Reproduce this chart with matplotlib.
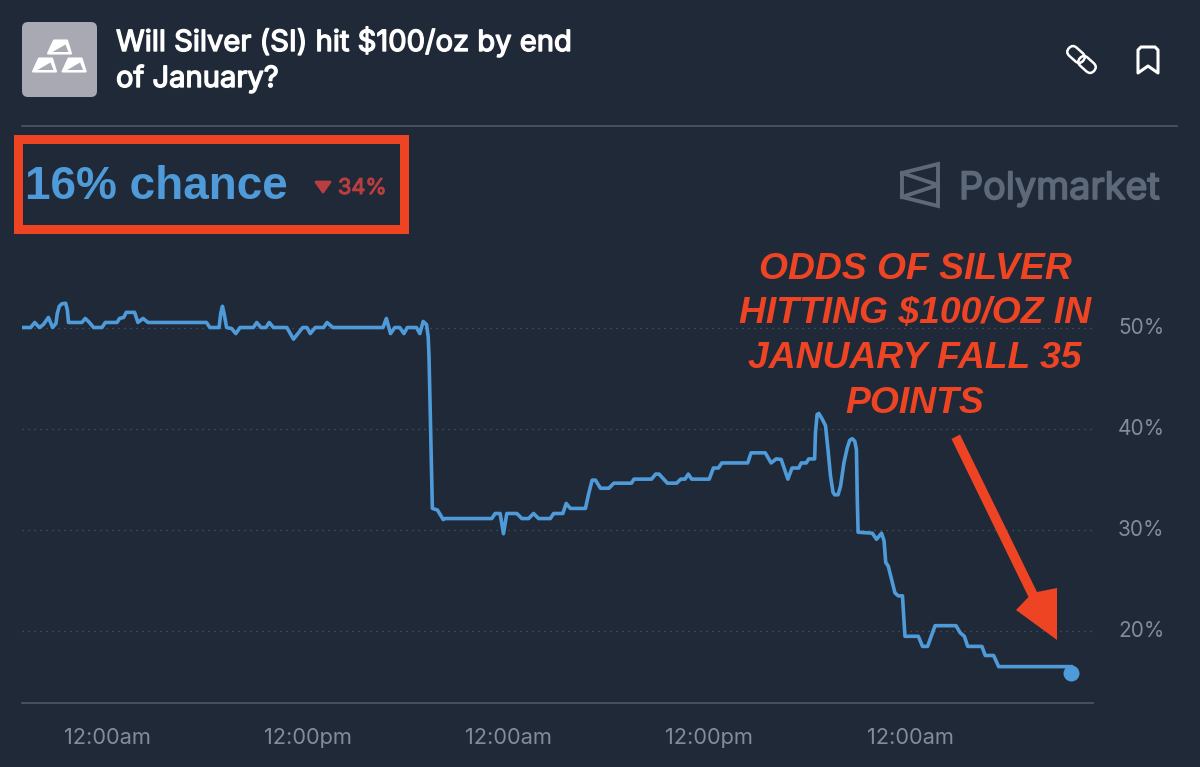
import matplotlib
matplotlib.use('Agg')
import matplotlib.pyplot as plt
import matplotlib.patheffects as pe
from matplotlib.patches import Polygon, Rectangle, FancyBboxPatch
from matplotlib.transforms import Affine2D, ScaledTranslation

# hours since the first "12:00am" tick
hours = [-5.04, -4.56, -4.32, -4.04, -3.8, -3.5, -3.25, -3.05, -2.97, -2.85, -2.7, -2.47, -2.37, -2.3, -1.5, -1.3, -1.05, -0.8,
         -0.3, -0.1, 0.6, 0.75, 1.0, 1.15, 1.65, 1.85, 2.15, 2.45, 5.95, 6.15, 6.7, 6.8, 6.9, 7.0, 7.15, 7.45, 7.7, 7.95,
         8.75, 8.95, 9.2, 9.5, 9.7, 9.95, 10.75, 11.15, 11.7, 11.95, 12.15, 12.45, 12.95, 13.15, 13.5, 16.5,
         16.7, 16.95, 17.2, 17.5, 17.75, 17.95, 18.5, 18.7, 18.9, 19.1, 19.2, 19.25, 19.45, 19.75, 20.1,
         20.2, 23.0, 23.2, 23.5, 23.7, 23.9, 24.5, 24.8, 25.2, 25.5, 25.8, 26.5, 26.7, 27.25, 27.45, 27.7, 28.6,
         28.8, 29.0, 29.2, 29.5, 30.0, 30.3, 31.35, 31.5, 32.55, 32.8, 33.0, 33.5, 34.05, 34.3, 34.55, 34.75, 34.95,
         36.0, 36.25, 36.55, 36.75, 38.3, 38.5, 39.35, 39.7, 40.0, 40.3, 40.7, 40.95, 41.35, 41.5, 41.8, 41.95,
         42.3, 42.35, 42.45, 42.55, 42.75, 42.95, 43.1, 43.25, 43.4, 43.5, 43.7, 43.85, 44.05, 44.25, 44.4, 44.55, 44.7,
         44.8, 44.85, 44.9,
         45.75, 46.0, 46.3, 46.45, 46.55, 46.7, 47.1, 47.3, 47.55, 47.7, 48.5, 48.75, 49.05, 49.5, 50.75, 51.0,
         51.25, 51.45, 52.3, 52.5, 53.0, 53.3, 57.65]
chance = [50, 50, 50.5, 50, 50.3, 51, 50, 50.4, 51.4, 52.1, 52.35, 52.4, 51.75, 50.5, 50.5, 50.9, 50.5, 50,
          50, 50.5, 50.5, 50.9, 51, 51.5, 51.5, 50.5, 50.9, 50.5, 50.5, 50, 50, 51.4, 52.1, 51.4, 50, 49.9, 49.4, 50,
          50, 50.5, 50, 50, 50.5, 50, 50, 48.85, 50, 50, 49.4, 50, 50, 50.5, 50, 50,
          50.9, 49.4, 50, 50, 49.4, 50, 50, 49.4, 50.6, 50.3, 49.1, 47.1, 32.1, 31.95, 31.0,
          31.1, 31.1, 31.6, 31.6, 29.6, 31.6, 31.6, 31.1, 31.1, 31.6, 31.1, 31.1, 31.6, 31.6, 32.6, 32.1, 32.1,
          33.6, 34.9, 34.9, 34.1, 34.1, 34.6, 34.6, 35, 35, 35.5, 35.5, 34.6, 34.6, 35, 35, 35.5, 35,
          35, 36.1, 36.1, 36.6, 36.6, 37.6, 37.6, 36.6, 37, 36.95, 35, 36.1, 36.1, 36.6, 36.6, 37,
          37, 39.6, 41.4, 41.5, 40.95, 40.3, 37.9, 35.3, 33.7, 33.45, 33.45, 34.3, 36.6, 38.1, 38.85, 39.0, 38.75,
          37.9, 33.0, 29.75,
          29.65, 29.05, 29.65, 28.9, 26.75, 26.4, 23.75, 23.45, 23.45, 19.45, 19.45, 18.45, 18.45, 20.5, 20.5, 19.8,
          19.45, 18.45, 18.45, 17.55, 17.55, 16.45, 16.45]
last_hour = 57.65
last_chance = 15.85

y_ticks = [20, 30, 40, 50]
y_labels = ['20%', '30%', '40%', '50%']
x_ticks = [0, 12, 24, 36, 48]
x_labels = ['12:00am', '12:00pm', '12:00am', '12:00pm', '12:00am']
note_lines = ['ODDS OF SILVER', 'HITTING $100/OZ IN', 'JANUARY FALL 35', 'POINTS']

BG = '#1f2937'
BLUE = '#4f9bd9'
RED = '#ee4423'
MUTED = '#838c99'
W, H = 1200, 767
plt.rcParams['font.family'] = ['Inter', 'DejaVu Sans']

fig = plt.figure(figsize=(W / 100, H / 100), dpi=100, facecolor=BG)


def heavy(lw, color):
    # Inter only comes in one weight here, so thicken it a little
    return [pe.withStroke(linewidth=lw, foreground=color)]


#%% chart
ax = fig.add_axes([22 / W, 1 - 703 / H, (1093 - 22) / W, (703 - 250) / H], facecolor='none')
ax.set_xlim(-5.08, 58.94)
ax.set_ylim(12.85, 57.67)
ax.grid(axis='y', color='#4d5766', lw=0.9, linestyle=(0, (1, 3.8)))
ax.set_axisbelow(True)
ax.plot(hours, chance, color=BLUE, lw=2.6, solid_joinstyle='round')
ax.plot([last_hour], [last_chance], 'o', color=BLUE, ms=11.5, mew=0, clip_on=False)
ax.set_xticks(x_ticks)
ax.set_xticklabels(x_labels)
ax.set_yticks(y_ticks)
ax.set_yticklabels(y_labels)
ax.yaxis.tick_right()
ax.tick_params(axis='x', length=0, pad=18, labelsize=15.7, labelcolor=MUTED)
ax.tick_params(axis='y', length=0, pad=18, labelsize=15, labelcolor=MUTED)
up = ScaledTranslation(0, 2 / 100, fig.dpi_scale_trans)
for label in ax.get_yticklabels():
    label.set_transform(label.get_transform() + up)
for side in ['top', 'left', 'right']:
    ax.spines[side].set_visible(False)
ax.spines['bottom'].set_color('#4d5868')
ax.spines['bottom'].set_linewidth(1.2)

#%% everything around the chart, in pixel coordinates
ov = fig.add_axes([0, 0, 1, 1], facecolor='none')
ov.set_xlim(0, W)
ov.set_ylim(H, 0)
ov.axis('off')

# header
ov.add_patch(FancyBboxPatch((25, 25), 69, 69, boxstyle='round,pad=3,rounding_size=6', fc='#a9a9b4', ec='none'))
for dx, dy in [(48, 40.5), (33, 58.5), (62.6, 58.5)]:
    ov.add_patch(Polygon([(dx + 6, dy), (dx + 19, dy), (dx + 23, dy + 13), (dx, dy + 13)], closed=True,
                         fc='white', ec='white', lw=1.5, joinstyle='round'))
    ov.add_patch(Polygon([(dx + 17.5, dy + 4), (dx + 20.5, dy + 11.5), (dx + 4.5, dy + 11.5)], closed=True,
                         fc='#a9a9b4', ec='none'))
ov.text(116, 51, 'Will Silver (SI) hit $100/oz by end', color='white', fontsize=21, va='baseline',
        path_effects=heavy(1.0, 'white'))
ov.text(116, 87, 'of January?', color='white', fontsize=21, va='baseline', path_effects=heavy(1.0, 'white'))
ov.plot([22, 1177], [125.5, 125.5], color='#4d5868', lw=1.2)

# link icon
for cx, cy in [(1076, 54.5), (1087, 64.5)]:
    rot = Affine2D().rotate_deg_around(cx, cy, 42) + ov.transData
    ov.add_patch(FancyBboxPatch((cx - 5.5, cy - 1.5), 11, 3, boxstyle='round,pad=4,rounding_size=5.5',
                                fc='none', ec='white', lw=1.8, transform=rot))
# bookmark icon
ov.add_patch(Polygon([(1138, 50), (1141, 47), (1155, 47), (1158, 50), (1158, 73), (1148, 66), (1138, 73)],
                     closed=True, fc='none', ec='white', lw=2.2, joinstyle='round'))

# big number with the red box
ov.text(25, 199, '16% chance', color=BLUE, fontsize=33, fontweight='bold', family=['Liberation Sans'], va='baseline')
ov.add_patch(Polygon([(316, 182), (330, 182), (323, 192)], closed=True, fc='#b83f3f', ec='#b83f3f', lw=2,
                     joinstyle='round'))
ov.text(338, 194, '34%', color='#b83f3f', fontsize=15.6, va='baseline', path_effects=heavy(0.8, '#b83f3f'))
ov.add_patch(Rectangle((17.7, 138.5), 386, 90, fc='none', ec=RED, lw=6.5, joinstyle='miter'))

# logo
LOGO = '#5d6879'
ov.add_patch(Polygon([(902, 173), (938, 164), (938, 206), (902, 197)], closed=True, fc='none', ec=LOGO, lw=2.8,
                     joinstyle='miter'))
ov.plot([902, 938, 902], [173, 185, 197], color=LOGO, lw=2.8)
ov.text(959, 199, 'Polymarket', color=LOGO, fontsize=27.2, va='baseline', path_effects=heavy(1.2, LOGO))

# annotation and arrow
for line, y in zip(note_lines, [279, 323, 368, 413]):
    ov.text(915, y, line, color=RED, fontsize=26.8, fontweight='bold', style='italic',
            family=['Liberation Sans'], ha='center', va='baseline')
ov.add_patch(Polygon([(951.5, 439), (960, 434.5), (1037, 592), (1057, 588), (1057, 640), (1016, 610), (1028.5, 597)],
                     closed=True, fc=RED, ec='none'))

fig.savefig('out.png', dpi=100, facecolor=BG)
